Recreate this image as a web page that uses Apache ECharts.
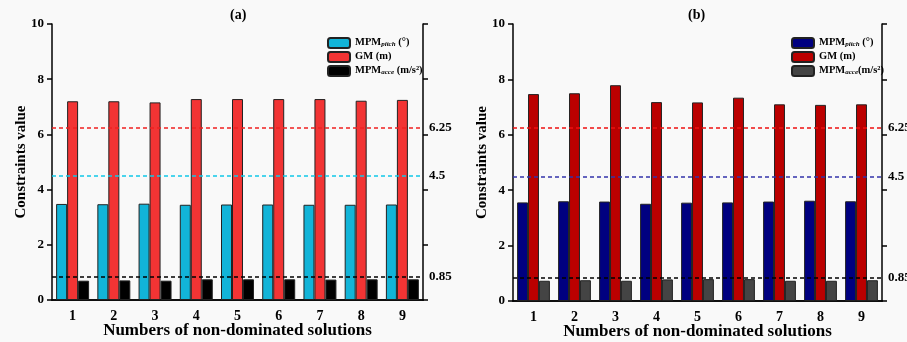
<!DOCTYPE html>
<html><head><meta charset="utf-8">
<script src="https://cdn.jsdelivr.net/npm/echarts@6/dist/echarts.min.js"></script>
<style>html,body{margin:0;padding:0;background:#f9f9f9}#c{width:907px;height:342px}</style>
</head><body><div id="c"></div>
<script>
const categories = ['1','2','3','4','5','6','7','8','9'];
const pitchA = [3.48,3.47,3.49,3.45,3.46,3.46,3.45,3.45,3.46];
const gmA    = [7.20,7.20,7.16,7.28,7.28,7.28,7.28,7.22,7.25];
const accA   = [0.70,0.71,0.70,0.75,0.75,0.75,0.74,0.75,0.75];
const pitchB = [3.56,3.60,3.59,3.51,3.55,3.56,3.59,3.62,3.60];
const gmB    = [7.47,7.50,7.79,7.18,7.17,7.34,7.10,7.08,7.10];
const accB   = [0.73,0.75,0.73,0.78,0.79,0.79,0.73,0.73,0.75];
const limits = [6.25, 4.5, 0.85];
const yTicks = [0, 2, 4, 6, 8, 10];
const panelTitles = ['(a)', '(b)'];
const names = ['MPM_pitch (°)', 'GM (m)', 'MPM_acce (m/s²)'];

const FONT = 'Liberation Serif';
const chart = echarts.init(document.getElementById('c'));

function legendFmt(n){
  if (n.indexOf('MPM_pitch') === 0) return '{b|MPM}{s|pitch}{b| (°)}';
  if (n.indexOf('MPM_acce') === 0) return '{b|MPM}{s|acce}{b|' + n.slice(8) + '}';
  return '{b|' + n + '}';
}
const rich = {
  b:{fontFamily:FONT,fontWeight:'bold',fontSize:10.5,color:'#000',lineHeight:10,verticalAlign:'bottom'},
  s:{fontFamily:FONT,fontWeight:'bold',fontStyle:'italic',fontSize:7,color:'#000',lineHeight:10,verticalAlign:'bottom',padding:[3,0,0,0]}
};

const grids = [
  {left:52, right:484, top:24, bottom:42, outerBoundsMode:'none', containLabel:false},
  {left:513, right:25, top:24, bottom:41, outerBoundsMode:'none', containLabel:false}
];
const xAxes = [], yAxes = [], series = [], legends = [], titles = [];
const panels = [
  {data:[pitchA,gmA,accA], colors:['#12b4d8','#f23434','#000000'], lineColors:['#f02020','#10c8e8','#000'], names:[names[0], names[1], names[2]]},
  {data:[pitchB,gmB,accB], colors:['#000080','#bb0000','#444444'], lineColors:['#ee1111','#3333aa','#000'], names:[names[0]+' ', names[1]+' ', 'MPM_acce(m/s²)']}
];
panels.forEach((p, i) => {
  xAxes.push({type:'category', gridIndex:i, data:categories, position:'bottom',
    axisLine:{lineStyle:{color:'#000',width:1.5}},
    axisTick:{alignWithLabel:true, length:4, lineStyle:{color:'#000',width:1.5}},
    axisLabel:{fontFamily:FONT,fontWeight:'bold',fontSize:14,color:'#000',margin:9},
    name:'Numbers of non-dominated solutions', nameLocation:'middle', nameGap:22, nameMoveOverlap:false,
    nameTextStyle:{fontFamily:FONT,fontWeight:'bold',fontSize:17,color:'#000'}});
  xAxes.push({type:'category', gridIndex:i, data:categories, position:'top',
    axisLine:{lineStyle:{color:'#000',width:1.5}}, axisTick:{show:false}, axisLabel:{show:false}});
  yAxes.push({type:'value', gridIndex:i, min:yTicks[0], max:yTicks[yTicks.length-1], interval:2,
    splitLine:{show:false},
    axisLine:{show:true,lineStyle:{color:'#000',width:1.5}},
    axisTick:{show:true,length:5,lineStyle:{color:'#000',width:1.5}},
    axisLabel:{fontFamily:FONT,fontWeight:'bold',fontSize:13,color:'#000',margin:8},
    name:'Constraints value', nameLocation:'middle', nameGap:23, nameMoveOverlap:false,
    nameTextStyle:{fontFamily:FONT,fontWeight:'bold',fontSize:15,color:'#000'}});
  yAxes.push({type:'value', gridIndex:i, min:yTicks[0], max:yTicks[yTicks.length-1], interval:2, position:'right',
    splitLine:{show:false},
    axisLine:{show:true,lineStyle:{color:'#000',width:1.5}},
    axisTick:{show:true,length:5,lineStyle:{color:'#000',width:1.5}},
    axisLabel:{show:false}});
  p.data.forEach((d, k) => {
    const s = {type:'bar', name:p.names[k], xAxisIndex:i*2, yAxisIndex:i*2, data:d,
      barGap:'0%', barCategoryGap:'20%',
      itemStyle:{color:p.colors[k], borderColor:'#222', borderWidth:1}};
    if (k === 0) {
      s.markLine = {symbol:'none', silent:true,
        label:{position:'end', formatter:'{c}', fontFamily:FONT, fontWeight:'bold', fontSize:13, color:'#000', distance:6},
        data: limits.map((v, j) => ({yAxis:v, lineStyle:{color:p.lineColors[j], type:[4,3], width:1.5}}))};
    }
    series.push(s);
  });
  legends.push({data:p.names, orient:'vertical', top:37, padding:0,
    left: i === 0 ? 327 : 791,
    itemWidth:22, itemHeight:10, itemGap:2,
    formatter:legendFmt, textStyle:{rich:rich}, selectedMode:false});
  titles.push({text:panelTitles[i], left: i === 0 ? 225 : 683, top:3,
    textStyle:{fontFamily:FONT,fontWeight:'bold',fontSize:14,color:'#000'}});
});

chart.setOption({
  backgroundColor:'#f9f9f9',
  animation:false,
  title:titles,
  legend:legends,
  grid:grids,
  xAxis:xAxes,
  yAxis:yAxes,
  series:series
});
</script></body></html>
